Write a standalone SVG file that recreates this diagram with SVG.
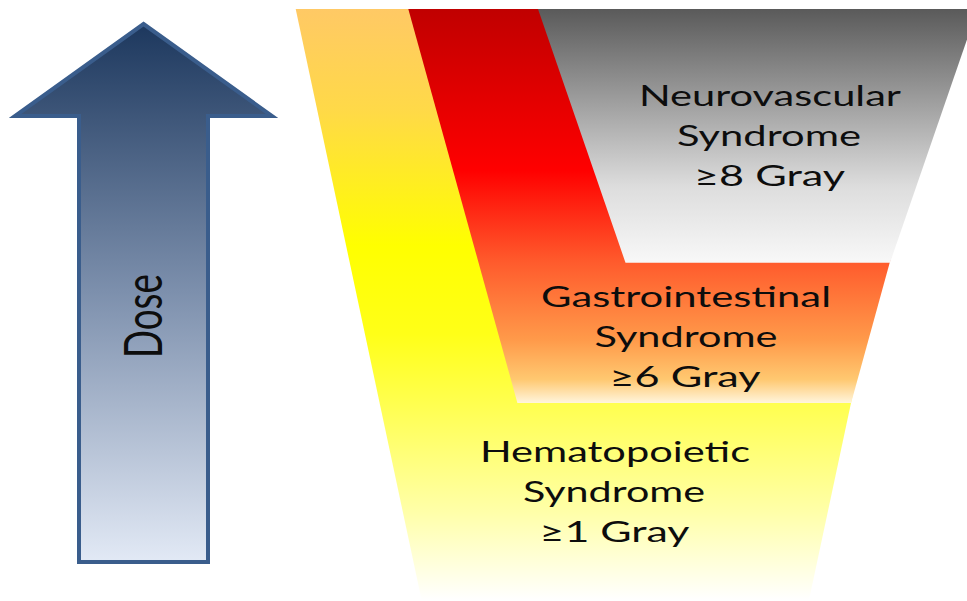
<svg xmlns="http://www.w3.org/2000/svg" width="967" height="601" viewBox="0 0 967 601">
  <defs>
    <linearGradient id="gArrow" gradientUnits="userSpaceOnUse" x1="0" y1="22" x2="0" y2="564">
      <stop offset="0" stop-color="#1c375d"/>
      <stop offset="0.5" stop-color="#7d90ad"/>
      <stop offset="1" stop-color="#e3eaf6"/>
    </linearGradient>
    <linearGradient id="gYellow" gradientUnits="userSpaceOnUse" x1="0" y1="9" x2="0" y2="600">
      <stop offset="0" stop-color="#ffc965"/>
      <stop offset="0.17" stop-color="#ffd948"/>
      <stop offset="0.4" stop-color="#ffff00"/>
      <stop offset="0.55" stop-color="#ffff18"/>
      <stop offset="0.68" stop-color="#ffff55"/>
      <stop offset="0.85" stop-color="#ffffa8"/>
      <stop offset="1" stop-color="#ffffff"/>
    </linearGradient>
    <linearGradient id="gRed" gradientUnits="userSpaceOnUse" x1="0" y1="9" x2="0" y2="403">
      <stop offset="0" stop-color="#c00000"/>
      <stop offset="0.41" stop-color="#ff0000"/>
      <stop offset="0.64" stop-color="#ff5a2c"/>
      <stop offset="0.84" stop-color="#ff9a4a"/>
      <stop offset="0.94" stop-color="#ffc870"/>
      <stop offset="1" stop-color="#fff5dc"/>
    </linearGradient>
    <linearGradient id="gGray" gradientUnits="userSpaceOnUse" x1="0" y1="9" x2="0" y2="263">
      <stop offset="0" stop-color="#5a5a5a"/>
      <stop offset="0.7" stop-color="#dddddd"/>
      <stop offset="1" stop-color="#f8f8f8"/>
    </linearGradient>
  </defs>
  <style>
    .lbl { font-family: Lato, "Open Sans", "Liberation Sans", sans-serif; font-size: 29px; fill: #0d0d0d; text-anchor: middle; }
    .dose { font-family: Lato, "Open Sans", "Liberation Sans", sans-serif; font-size: 38px; fill: #0d0d0d; text-anchor: middle; }
  </style>
  <rect width="967" height="601" fill="#ffffff"/>

  <g id="dose-arrow">
    <path d="M143.5,24 L272,116 L208,116 L208,562 L79,562 L79,116 L15,116 Z" fill="url(#gArrow)" stroke="#3a5d8c" stroke-width="4" stroke-linejoin="miter"/>
    <text class="dose" transform="translate(162,316) rotate(-90) scale(1,1.39)" x="0" y="0" textLength="84" lengthAdjust="spacingAndGlyphs">Dose</text>
  </g>

  <g id="hematopoietic">
    <polygon points="295.7,9 935,9 809,600 421.6,600" fill="url(#gYellow)"/>
    <text class="lbl" x="615" y="462" textLength="270" lengthAdjust="spacingAndGlyphs">Hematopoietic</text>
    <text class="lbl" x="614" y="502" textLength="182" lengthAdjust="spacingAndGlyphs">Syndrome</text>
    <text class="lbl" x="614.5" y="542" textLength="150" lengthAdjust="spacingAndGlyphs">≥1 Gray</text>
  </g>

  <g id="gastrointestinal">
    <polygon points="408.3,9 959.5,9 851.1,403 517.4,403" fill="url(#gRed)"/>
    <text class="lbl" x="686" y="307" textLength="290" lengthAdjust="spacingAndGlyphs">Gastrointestinal</text>
    <text class="lbl" x="686" y="347" textLength="183" lengthAdjust="spacingAndGlyphs">Syndrome</text>
    <text class="lbl" x="685" y="387" textLength="151" lengthAdjust="spacingAndGlyphs">≥6 Gray</text>
  </g>

  <g id="neurovascular">
    <polygon points="538,9 977.5,9 890,262.7 625.5,262.7" fill="url(#gGray)"/>
    <text class="lbl" x="770" y="106" textLength="262" lengthAdjust="spacingAndGlyphs">Neurovascular</text>
    <text class="lbl" x="769" y="146" textLength="184" lengthAdjust="spacingAndGlyphs">Syndrome</text>
    <text class="lbl" x="769.5" y="186" textLength="151" lengthAdjust="spacingAndGlyphs">≥8 Gray</text>
  </g>

  <g id="connectors"/>
</svg>
